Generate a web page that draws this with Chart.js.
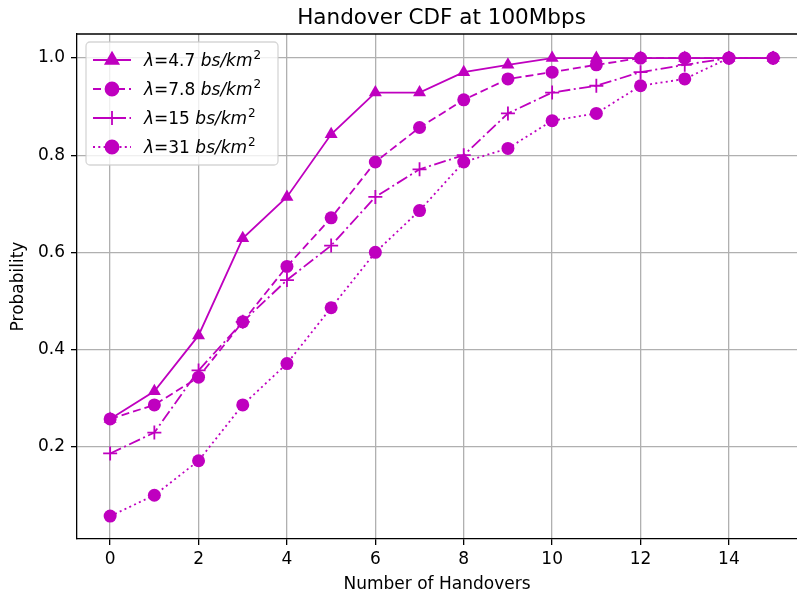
<!DOCTYPE html>
<html>
<head>
<meta charset="utf-8">
<script src="https://cdn.jsdelivr.net/npm/chart.js@4"></script>
<style>
  html, body { margin: 0; padding: 0; background: #fff; }
  #wrap { width: 797px; height: 599px; }
</style>
</head>
<body>
<div id="wrap"><canvas id="cdfChart" width="797" height="599"></canvas></div>
<script>
const handovers = [0, 1, 2, 3, 4, 5, 6, 7, 8, 9, 10, 11, 12, 13, 14, 15];
const lambda47 = [0.257, 0.314, 0.429, 0.629, 0.714, 0.843, 0.929, 0.929, 0.971, 0.986, 1.0, 1.0, 1.0, 1.0, 1.0, 1.0];
const lambda78 = [0.257, 0.286, 0.343, 0.457, 0.571, 0.671, 0.786, 0.857, 0.914, 0.957, 0.971, 0.986, 1.0, 1.0, 1.0, 1.0];
const lambda15 = [0.186, 0.229, 0.357, 0.457, 0.543, 0.614, 0.714, 0.771, 0.800, 0.886, 0.929, 0.943, 0.971, 0.986, 1.0, 1.0];
const lambda31 = [0.057, 0.100, 0.171, 0.286, 0.371, 0.486, 0.600, 0.686, 0.786, 0.814, 0.871, 0.886, 0.943, 0.957, 1.0, 1.0];
const densities = ["4.7", "7.8", "15", "31"];
const xTicks = [0, 2, 4, 6, 8, 10, 12, 14];
const yTicks = [0.2, 0.4, 0.6, 0.8, 1.0];

const magenta = "#bf00bf";
const font = "DejaVu Sans";

const styles = [
    { pointStyle: "triangle", radius: 7.5, dash: [] },
    { pointStyle: "circle", radius: 6.5, dash: [8, 4] },
    { pointStyle: "cross", radius: 7, dash: [12, 3.5, 2, 3.5] },
    { pointStyle: "circle", radius: 6.5, dash: [2, 3.3] }
];

const makeSet = (values, i) => ({
    label: `λ=${densities[i]} bs/km2`,
    data: handovers.map((x, j) => ({ x: x, y: values[j] })),
    borderColor: magenta,
    backgroundColor: magenta,
    borderWidth: 1.8,
    borderDash: styles[i].dash,
    pointStyle: styles[i].pointStyle,
    pointRadius: styles[i].radius,
    pointBorderWidth: styles[i].pointStyle === "cross" ? 1.8 : 0,
    pointBorderColor: magenta,
    pointBackgroundColor: magenta,
    tension: 0,
    order: 3 - i
});

// title, top spine and the matplotlib-like legend
const extras = {
    id: "extras",
    afterDatasetsDraw(chart) {
        const { ctx, chartArea } = chart;
        ctx.save();

        ctx.strokeStyle = "#000";
        ctx.lineWidth = 1.3;
        ctx.beginPath();
        ctx.moveTo(chartArea.left, chartArea.top);
        ctx.lineTo(chartArea.right, chartArea.top);
        ctx.stroke();

        ctx.fillStyle = "#000";
        ctx.font = `21.5px "${font}"`;
        ctx.textAlign = "center";
        ctx.textBaseline = "alphabetic";
        ctx.fillText("Handover CDF at 100Mbps", (chartArea.left + 806) / 2, 24);

        const bx = 86, by = 42, bw = 192, bh = 123;
        ctx.fillStyle = "rgba(255,255,255,0.8)";
        ctx.strokeStyle = "rgba(204,204,204,0.8)";
        ctx.lineWidth = 1.3;
        ctx.beginPath();
        ctx.roundRect(bx, by, bw, bh, 4);
        ctx.fill();
        ctx.stroke();

        styles.forEach((st, i) => {
            const cy = 60 + i * 29;
            ctx.strokeStyle = magenta;
            ctx.lineWidth = 1.8;
            ctx.setLineDash(st.dash);
            ctx.beginPath();
            ctx.moveTo(93, cy);
            ctx.lineTo(131, cy);
            ctx.stroke();
            ctx.setLineDash([]);
            ctx.fillStyle = magenta;
            ctx.lineWidth = 1.8;
            Chart.helpers.drawPoint(ctx, { pointStyle: st.pointStyle, radius: st.radius, borderWidth: 1.8 }, 112, cy);

            ctx.fillStyle = "#000";
            ctx.textAlign = "left";
            ctx.textBaseline = "alphabetic";
            let x = 144;
            const base = cy + 6;
            ctx.font = `italic 17px "${font}"`;
            ctx.fillText("λ", x, base);
            x += ctx.measureText("λ").width;
            ctx.font = `17px "${font}"`;
            const num = `=${densities[i]} `;
            ctx.fillText(num, x, base);
            x += ctx.measureText(num).width;
            ctx.font = `italic 17px "${font}"`;
            ctx.fillText("bs/km", x, base);
            x += ctx.measureText("bs/km").width + 1;
            ctx.font = `12px "${font}"`;
            ctx.fillText("2", x, base - 7);
        });
        ctx.restore();
    }
};

new Chart("cdfChart", {
    type: "line",
    data: {
        datasets: [lambda47, lambda78, lambda15, lambda31].map(makeSet)
    },
    options: {
        responsive: false,
        animation: false,
        layout: { autoPadding: false, padding: { top: 34, right: 0, bottom: 0, left: 0 } },
        plugins: {
            legend: { display: false },
            title: { display: false },
            tooltip: { enabled: false }
        },
        scales: {
            x: {
                type: "linear",
                min: -0.75,
                max: 15.54,
                afterFit: (s) => { s.height = 60; },
                afterBuildTicks: (s) => { s.ticks = xTicks.map((v) => ({ value: v })); },
                ticks: { color: "#000", font: { family: font, size: 17 }, padding: 4, maxRotation: 0 },
                grid: { color: "#b0b0b0", lineWidth: 1.3, tickColor: "#000", tickLength: 6 },
                border: { color: "#000", width: 1.3 },
                title: { display: true, text: "Number of Handovers", color: "#000", font: { family: font, size: 17 }, padding: { top: 2, bottom: 4 } }
            },
            y: {
                min: 0.0099,
                max: 1.0495,
                afterFit: (s) => { s.width = 77; },
                afterBuildTicks: (s) => { s.ticks = yTicks.map((v) => ({ value: v })); },
                ticks: { color: "#000", font: { family: font, size: 17 }, padding: 6, callback: (v) => v.toFixed(1) },
                grid: { color: "#b0b0b0", lineWidth: 1.3, tickColor: "#000", tickLength: 6 },
                border: { color: "#000", width: 1.3 },
                title: { display: true, text: "Probability", color: "#000", font: { family: font, size: 17 }, padding: { top: 8, bottom: 0 } }
            }
        }
    },
    plugins: [extras]
});
</script>
</body>
</html>
